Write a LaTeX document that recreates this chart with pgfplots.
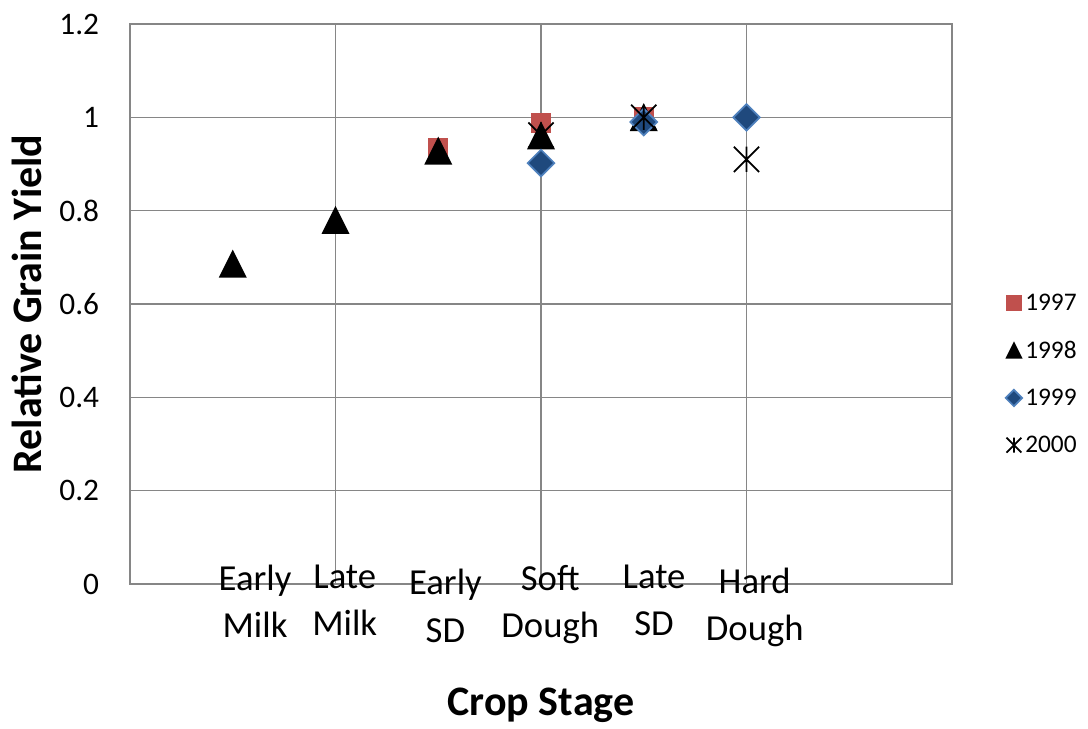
\documentclass[border=0pt]{standalone}
\usepackage{pgfplots}
\pgfplotsset{compat=1.18}
\usepackage{fontspec}
\setmainfont{Carlito}
\definecolor{gridgray}{RGB}{134,134,134}
\definecolor{red97}{RGB}{192,80,77}
\definecolor{blue99}{RGB}{31,73,125}
\definecolor{blue99e}{RGB}{79,129,189}
\pgfdeclareplotmark{xsq}{\pgfpathrectangle{\pgfqpoint{-0.72\pgfplotmarksize}{-0.72\pgfplotmarksize}}{\pgfqpoint{1.44\pgfplotmarksize}{1.44\pgfplotmarksize}}\pgfusepathqfill}
\pgfdeclareplotmark{xtri}{\pgfpathmoveto{\pgfqpoint{-\pgfplotmarksize}{-0.95\pgfplotmarksize}}\pgfpathlineto{\pgfqpoint{\pgfplotmarksize}{-0.95\pgfplotmarksize}}\pgfpathlineto{\pgfqpoint{0pt}{1.05\pgfplotmarksize}}\pgfpathclose\pgfusepathqfill}
\pgfdeclareplotmark{xdia}{\pgfpathmoveto{\pgfqpoint{0pt}{0.95\pgfplotmarksize}}\pgfpathlineto{\pgfqpoint{0.95\pgfplotmarksize}{0pt}}\pgfpathlineto{\pgfqpoint{0pt}{-0.95\pgfplotmarksize}}\pgfpathlineto{\pgfqpoint{-0.95\pgfplotmarksize}{0pt}}\pgfpathclose\pgfusepathqfillstroke}
\pgfdeclareplotmark{xstar}{\pgfpathmoveto{\pgfqpoint{-0.9\pgfplotmarksize}{-0.9\pgfplotmarksize}}\pgfpathlineto{\pgfqpoint{0.9\pgfplotmarksize}{0.9\pgfplotmarksize}}\pgfpathmoveto{\pgfqpoint{-0.9\pgfplotmarksize}{0.9\pgfplotmarksize}}\pgfpathlineto{\pgfqpoint{0.9\pgfplotmarksize}{-0.9\pgfplotmarksize}}\pgfpathmoveto{\pgfqpoint{0pt}{-0.9\pgfplotmarksize}}\pgfpathlineto{\pgfqpoint{0pt}{0.9\pgfplotmarksize}}\pgfusepathqstroke}
\pgfplotsset{
  leg/.style={legend image code/.code={\draw[##1, mark size=#1] plot coordinates {(8pt,0pt)};}},
}
\begin{document}
\begin{tikzpicture}
\useasboundingbox (0pt,0pt) rectangle (816pt,546pt);
\begin{axis}[
  at={(97.5pt,108pt)}, anchor=south west,
  scale only axis, width=616.5pt, height=420pt,
  xmin=0, xmax=8, ymin=0, ymax=1.2,
  xtick={2,4,6}, xticklabels={},
  ytick={0,0.2,0.4,0.6,0.8,1,1.2},
  yticklabels={0,0.2,0.4,0.6,0.8,1,1.2},
  major tick length=0pt,
  grid=major,
  grid style={draw=gridgray, line width=1.1pt},
  axis line style={draw=gridgray, line width=1.1pt},
  yticklabel style={font=\fontsize{23.5}{28}\selectfont, inner sep=0pt, xshift=-23pt},
  ylabel={Relative Grain Yield},
  xlabel={Crop Stage},
  ylabel style={font=\bfseries\fontsize{31.5}{36}\selectfont, at={(axis description cs:-0.125,0.5)}, anchor=center},
  xlabel style={font=\bfseries\fontsize{31.5}{36}\selectfont, at={(axis description cs:0.5,-0.216)}, anchor=center},
  clip=false,
  legend style={draw=none, at={(1.0645,0.375)}, anchor=west, inner sep=0pt,
    font=\fontsize{19}{22}\selectfont, row sep=17.5pt, cells={anchor=west}},
]
\addplot[only marks, mark=xsq, mark size=10.5pt, color=red97, leg=8.5pt] coordinates {(3,0.935) (4,0.987) (5,1.0)};
\addlegendentry{1997}
\addplot[only marks, mark=xtri, mark size=10.5pt, color=black, leg=6.5pt] coordinates {(1,0.685) (2,0.779) (3,0.927) (4,0.960) (5,0.999)};
\addlegendentry{1998}
\addplot[only marks, mark=xdia, mark size=10.5pt, fill=blue99, draw=blue99e, line width=1.3pt, mark options={fill=blue99, draw=blue99e}, leg=6.5pt] coordinates {(4,0.902) (5,0.990) (6,1.0)};
\addlegendentry{1999}
\addplot[only marks, mark=xstar, mark size=10.5pt, color=black, line width=1.3pt, leg=6.2pt] coordinates {(4,0.962) (5,1.0) (6,0.910)};
\addlegendentry{2000}
\tikzset{catlab/.style={font=\fontsize{27.5}{35.5}\selectfont, align=center, anchor=north, inner sep=0pt}}
\node[catlab] at (axis cs:1.217,0.041) {Early\\Milk};
\node[catlab] at (axis cs:2.09,0.041) {Late\\Milk};
\node[catlab] at (axis cs:3.07,0.032) {Early\\SD};
\node[catlab] at (axis cs:4.09,0.041) {Soft\\Dough};
\node[catlab] at (axis cs:5.10,0.041) {Late\\SD};
\node[catlab] at (axis cs:6.08,0.035) {Hard\\Dough};
\end{axis}
\end{tikzpicture}
\end{document}
